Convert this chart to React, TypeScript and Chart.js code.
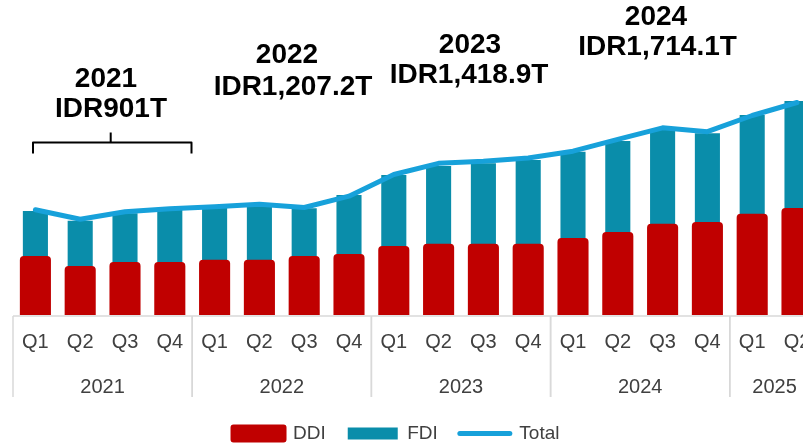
import React, { useEffect, useRef } from 'react';
import { Chart, registerables } from 'chart.js';

Chart.register(...registerables);

// ---- data (IDR trillion) ----
const quarterLabels = [
  'Q1', 'Q2', 'Q3', 'Q4',
  'Q1', 'Q2', 'Q3', 'Q4',
  'Q1', 'Q2', 'Q3', 'Q4',
  'Q1', 'Q2', 'Q3', 'Q4',
  'Q1', 'Q2',
];
const yearLabels = ['2021', '2022', '2023', '2024', '2025'];
const quartersPerYear = [4, 4, 4, 4, 2];

const ddiValues = [124.4, 102.2, 111.1, 111.1, 116.2, 116.2, 124.4, 128.9, 146.7, 151.8, 151.8, 151.8, 164.4, 177.8, 196.2, 200.0, 218.4, 231.1];
const fdiValues = [106.7, 107.3, 114.9, 122.2, 122.2, 126.0, 112.7, 137.8, 164.4, 179.3, 185.3, 192.7, 198.4, 208.9, 214.9, 203.8, 226.0, 244.4];
const totalValues = [234.0, 212.7, 229.3, 236.2, 240.4, 246.2, 238.9, 264.0, 312.2, 337.1, 341.6, 348.9, 364.0, 390.4, 416.0, 407.3, 443.3, 472.2];

const annualYears = ['2021', '2022', '2023', '2024'];
const annualTotals = ['IDR901T', 'IDR1,207.2T', 'IDR1,418.9T', 'IDR1,714.1T'];

// ---- styles ----
const DDI_COLOR = '#C00000';
const FDI_COLOR = '#0A8DAA';
const TOTAL_COLOR = '#17A1DA';
const AXIS_COLOR = '#D9D9D9';
const TEXT_COLOR = '#404040';
const FONT = '"Liberation Sans", Arial, sans-serif';

// annotation placement (x centre, baseline of year line, baseline of total line)
const annotationPos = [
  { x: 106, y1: 86.7, x2: 111, y2: 116.7 },
  { x: 287, y1: 63.3, x2: 293, y2: 95 },
  { x: 470, y1: 52.8, x2: 469, y2: 83 },
  { x: 656, y1: 25, x2: 657.5, y2: 55 },
];

const overlayPlugin = {
  id: 'overlay',
  afterLayout(chart: any) {
    const lg = chart.legend;
    if (lg) {
      const dx = 396.5 - (lg.left + lg.right) / 2;
      lg.left += dx;
      lg.right += dx;
      const pad = lg.options.labels.padding;
      const dy = 433.5 - pad - 9.5 - lg.top;
      lg.top += dy;
      lg.bottom += dy;
    }
  },
  afterDraw(chart: any) {
    const ctx = chart.ctx as CanvasRenderingContext2D;
    const xs = chart.scales.x;
    const area = chart.chartArea;
    const n = quarterLabels.length;
    const cw = xs.width / n;
    ctx.save();

    // axis baseline
    ctx.strokeStyle = AXIS_COLOR;
    ctx.lineWidth = 1.5;
    ctx.beginPath();
    ctx.moveTo(area.left, area.bottom + 1);
    ctx.lineTo(area.right, area.bottom + 1);
    ctx.stroke();

    // year separators and year labels
    let start = 0;
    ctx.font = `20px ${FONT}`;
    ctx.fillStyle = TEXT_COLOR;
    ctx.textAlign = 'center';
    ctx.textBaseline = 'alphabetic';
    yearLabels.forEach((yr, k) => {
      const cnt = quartersPerYear[k];
      const l = xs.getPixelForTick(start) - cw / 2;
      const r = xs.getPixelForTick(start + cnt - 1) + cw / 2;
      ctx.beginPath();
      ctx.moveTo(l, area.bottom + 1);
      ctx.lineTo(l, area.bottom + 82);
      ctx.moveTo(r, area.bottom + 1);
      ctx.lineTo(r, area.bottom + 82);
      ctx.stroke();
      ctx.fillText(yr, (l + r) / 2, area.bottom + 78.3);
      start += cnt;
    });

    // annual total annotations
    ctx.fillStyle = '#000000';
    ctx.font = `bold 28px ${FONT}`;
    annualYears.forEach((yr, k) => {
      const p = annotationPos[k];
      ctx.fillText(yr, p.x, p.y1);
      ctx.fillText(annualTotals[k], p.x2, p.y2);
    });

    // bracket under 2021
    ctx.strokeStyle = '#000000';
    ctx.lineWidth = 2;
    ctx.lineJoin = 'round';
    ctx.beginPath();
    ctx.moveTo(33, 153.5);
    ctx.lineTo(33, 142.5);
    ctx.lineTo(191.5, 142.5);
    ctx.lineTo(191.5, 153.5);
    ctx.moveTo(110.7, 142.5);
    ctx.lineTo(110.7, 132.5);
    ctx.stroke();

    ctx.restore();
  },
};

export default function App() {
  const ref = useRef<HTMLCanvasElement>(null);

  useEffect(() => {
    if (!ref.current) return;
    Chart.defaults.font.family = FONT;
    const chart = new Chart(ref.current, {
      type: 'bar',
      data: {
        labels: quarterLabels,
        datasets: [
          {
            type: 'line',
            label: 'Total',
            data: totalValues,
            borderColor: TOTAL_COLOR,
            backgroundColor: TOTAL_COLOR,
            borderWidth: 5,
            pointRadius: 0,
            tension: 0,
            borderJoinStyle: 'round',
            borderCapStyle: 'round',
            stack: 'total',
            order: 0,
          } as any,
          {
            type: 'bar',
            label: 'DDI',
            data: ddiValues,
            backgroundColor: DDI_COLOR,
            borderWidth: 0,
            borderRadius: { topLeft: 4, topRight: 4, bottomLeft: 0, bottomRight: 0 },
            borderSkipped: false,
            inflateAmount: 3,
            barPercentage: 0.56,
            categoryPercentage: 1,
            stack: 'inv',
            order: 1,
            clip: { left: 10, top: 10, right: 10, bottom: 0 },
          } as any,
          {
            type: 'bar',
            label: 'FDI',
            data: fdiValues,
            backgroundColor: FDI_COLOR,
            borderWidth: 0,
            inflateAmount: 0,
            barPercentage: 0.56,
            categoryPercentage: 1,
            stack: 'inv',
            order: 2,
          } as any,
        ],
      },
      options: {
        animation: false,
        responsive: true,
        maintainAspectRatio: false,
        layout: { padding: { left: 13, right: 10.6, top: 0, bottom: 0 } },
        scales: {
          x: {
            stacked: true,
            offset: true,
            grid: { display: false, drawTicks: false },
            border: { display: false },
            ticks: {
              color: TEXT_COLOR,
              font: { size: 20, family: FONT },
              padding: 15,
              maxRotation: 0,
              autoSkip: false,
            },
            afterFit: (scale: any) => {
              const lgH = scale.chart.legend ? scale.chart.legend.height : 0;
              scale.height = scale.chart.height - 315 - lgH;
            },
          },
          y: {
            stacked: true,
            display: false,
            min: 0,
            max: 700,
          },
        },
        plugins: {
          tooltip: { enabled: false },
          legend: {
            position: 'bottom',
            labels: {
              color: TEXT_COLOR,
              font: { size: 19, family: FONT },
              usePointStyle: true,
              pointStyleWidth: 50,
              boxHeight: 12,
              padding: 22,
              generateLabels: (ch: any) => {
                const items = (Chart.defaults.plugins.legend.labels as any).generateLabels(ch);
                const byName: Record<string, any> = {};
                items.forEach((it: any) => {
                  if (it.text === 'DDI') {
                    it.pointStyle = 'rect';
                    it.fillStyle = DDI_COLOR;
                    it.strokeStyle = DDI_COLOR;
                    it.lineWidth = 6;
                    it.lineJoin = 'round';
                  } else if (it.text === 'FDI') {
                    it.pointStyle = 'rect';
                    it.fillStyle = FDI_COLOR;
                    it.lineWidth = 0;
                  } else {
                    it.pointStyle = 'line';
                    it.strokeStyle = TOTAL_COLOR;
                    it.lineWidth = 5;
                    it.lineCap = 'round';
                  }
                  byName[it.text] = it;
                });
                return ['DDI', 'FDI', 'Total'].map((k) => byName[k]).filter(Boolean);
              },
            },
          },
        },
      },
      plugins: [overlayPlugin],
    });
    return () => chart.destroy();
  }, []);

  return (
    <div style={{ position: 'fixed', left: 0, top: 0, width: 803, height: 446, overflow: 'hidden', background: '#ffffff' }}>
      <div style={{ position: 'relative', width: 830, height: 446 }}>
        <canvas ref={ref} />
      </div>
    </div>
  );
}
